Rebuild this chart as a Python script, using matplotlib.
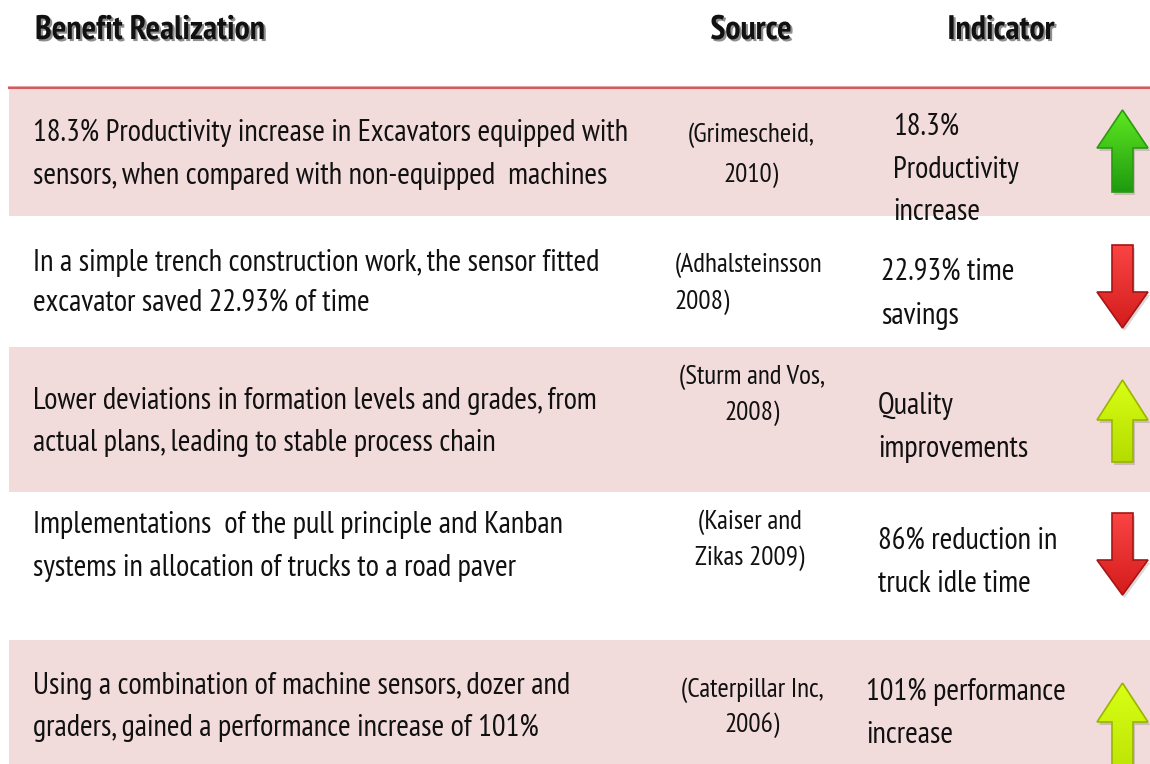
import matplotlib
matplotlib.use("Agg")
import matplotlib.pyplot as plt
import matplotlib.patheffects as pe
from matplotlib.patches import Polygon, Rectangle
import numpy as np

plt.rcParams['font.family'] = ['PT Sans Narrow', 'Carlito', 'DejaVu Sans']

headers = ["Benefit Realization", "Source", "Indicator"]

benefits = [
    ["18.3% Productivity increase in Excavators equipped with",
     "sensors, when compared with non-equipped  machines"],
    ["In a simple trench construction work, the sensor fitted",
     "excavator saved 22.93% of time"],
    ["Lower deviations in formation levels and grades, from",
     "actual plans, leading to stable process chain"],
    ["Implementations  of the pull principle and Kanban",
     "systems in allocation of trucks to a road paver"],
    ["Using a combination of machine sensors, dozer and",
     "graders, gained a performance increase of 101%"],
]
sources = [
    ["(Grimescheid,", "2010)"],
    ["(Adhalsteinsson", "2008)"],
    ["(Sturm and Vos,", "2008)"],
    ["(Kaiser and", "Zikas 2009)"],
    ["(Caterpillar Inc,", "2006)"],
]
indicators = [
    ["18.3%", "Productivity", "increase"],
    ["22.93% time", "savings"],
    ["Quality", "improvements"],
    ["86% reduction in", "truck idle time"],
    ["101% performance", "increase"],
]
directions = ["up", "down", "up", "down", "up"]
arrow_colors = [("#5ee820", "#1f9a10", "#2a9a10"),
                ("#fa4444", "#d41c1c", "#a81414"),
                ("#d8ff14", "#b4dc00", "#9ab400"),
                ("#fa4444", "#d41c1c", "#a81414"),
                ("#d8ff14", "#b4dc00", "#9ab400")]

# layout (pixel coordinates)
W, H = 1150, 764
bands = [(88, 216), (347, 492), (640, 764)]
benefit_y = [(133, 176), (263, 303), (401, 443), (525, 568), (686, 728)]
source_y = [(135, 175), (265, 302), (377, 413), (522, 558), (690, 725)]
source_x = [751, 675, 752, 750, 752]
source_ha = ["center", "left", "center", "center", "center"]
ind_y = [(127, 170, 212), (272, 316), (406, 449), (541, 584), (692, 735)]
ind_x = [893, 881, 878, 878, 866]
arrow_y = [(110, 148, 192), (245, 292, 328), (380, 420, 462),
           (513, 560, 595), (683, 722, 800)]

fig = plt.figure(figsize=(W / 100, H / 100), dpi=100)
ax = fig.add_axes([0, 0, 1, 1])
ax.set_xlim(0, W)
ax.set_ylim(H, 0)
ax.axis("off")

pink = "#f2dcdb"
for y0, y1 in bands:
    ax.add_patch(Rectangle((9, y0), W - 9, y1 - y0, facecolor=pink,
                           edgecolor="none", zorder=0))
ax.plot([9, W], [86.5, 86.5], color="#e8a8a8", lw=1.5, zorder=1)
ax.plot([9, W], [88, 88], color="#d05c5c", lw=1.5, zorder=1)

shadow = [pe.SimplePatchShadow(offset=(1.5, -1.5), alpha=0.45), pe.Normal()]
hx = [35, 751, 1001]
hha = ["left", "center", "center"]
for t, x, ha in zip(headers, hx, hha):
    ax.text(x, 30, t, fontsize=24.5, fontweight="bold", ha=ha, va="center",
            color="#111111", path_effects=shadow)

body_fs = 22
for i in range(len(benefits)):
    for line, y in zip(benefits[i], benefit_y[i]):
        ax.text(33, y, line, fontsize=body_fs, va="center", ha="left",
                color="#111111")
    for line, y in zip(sources[i], source_y[i]):
        ax.text(source_x[i], y, line, fontsize=19.5, va="center",
                ha=source_ha[i], color="#111111")
    for line, y in zip(indicators[i], ind_y[i]):
        ax.text(ind_x[i], y, line, fontsize=body_fs, va="center", ha="left",
                color="#111111")

# arrows
xl, xr, sl, sr = 1097, 1148, 1112, 1133
for d, (ya, yb, yc), (c1, c2, ce) in zip(directions, arrow_y, arrow_colors):
    if d == "up":
        tip, base, end = ya, yb, yc
    else:
        end, base, tip = ya, yb, yc
    pts = [(0.5 * (xl + xr), tip), (xr, base), (sr, base), (sr, end),
           (sl, end), (sl, base), (xl, base)]
    sh = Polygon([(x + 2, y + 3) for x, y in pts], closed=True,
                 facecolor="#000000", alpha=0.15, edgecolor="none", zorder=2)
    ax.add_patch(sh)
    poly = Polygon(pts, closed=True, facecolor="none", edgecolor=ce,
                   lw=1.2, zorder=4)
    ax.add_patch(poly)
    cmap = matplotlib.colors.LinearSegmentedColormap.from_list("g", [c1, c2])
    grad = np.linspace(0, 1, 100).reshape(-1, 1) * np.ones((1, 10))
    ymin, ymax = min(tip, end), max(tip, end)
    im = ax.imshow(grad, cmap=cmap, extent=(xl, xr, ymax, ymin),
                   aspect="auto", zorder=3, interpolation="bilinear")
    im.set_clip_path(poly)

ax.set_xlim(0, W)
ax.set_ylim(H, 0)
fig.savefig("out.png", dpi=100)
